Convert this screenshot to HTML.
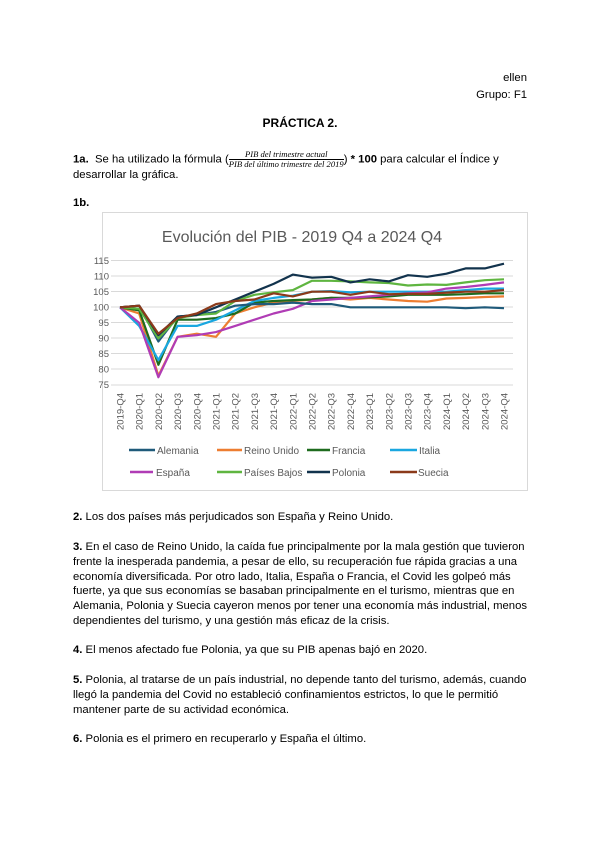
<!DOCTYPE html>
<html><head><meta charset="utf-8"><style>
body{margin:0;background:#fff;}
.pg{position:relative;width:600px;height:848px;overflow:hidden;font-family:"Liberation Sans",sans-serif;color:#000;font-size:11.3px;}
.t{position:absolute;white-space:nowrap;line-height:14px;}
b{font-weight:bold}
</style></head><body><div class="pg">
<div class="t" style="right:73px;top:71px">ellen</div>
<div class="t" style="right:73px;top:88px">Grupo: F1</div>
<div class="t" style="left:0;width:600px;text-align:center;top:116px;font-weight:bold;font-size:12px">PRÁCTICA 2.</div>
<div class="t" style="left:73px;top:150px"><b>1a.</b>&nbsp; Se ha utilizado la fórmula (<span style="display:inline-block;vertical-align:middle;text-align:center;font-family:'Liberation Serif',serif;font-style:italic;font-size:8.6px;line-height:9px"><span style="border-bottom:0.8px solid #000;display:block;padding:0 2px">PIB del trimestre actual</span>PIB del último trimestre del 2019</span>) <b>* 100</b> para calcular el Índice y</div>
<div class="t" style="left:73px;top:168px">desarrollar la gráfica.</div>
<div class="t" style="left:73px;top:196px"><b>1b.</b></div>

<svg style="position:absolute;left:0;top:0" width="600" height="848" font-family="Liberation Sans, sans-serif">
<rect x="102.5" y="212.5" width="425" height="278" fill="#fff" stroke="#d9d9d9"/>
<text x="302" y="242" text-anchor="middle" font-size="16" fill="#595959">Evolución del PIB - 2019 Q4 a 2024 Q4</text>
<g stroke="#d9d9d9" stroke-width="1">
<line x1="111" x2="513" y1="260.5" y2="260.5"/><line x1="111" x2="513" y1="276" y2="276"/><line x1="111" x2="513" y1="291.5" y2="291.5"/><line x1="111" x2="513" y1="307" y2="307"/><line x1="111" x2="513" y1="322.5" y2="322.5"/><line x1="111" x2="513" y1="338" y2="338"/><line x1="111" x2="513" y1="353.5" y2="353.5"/><line x1="111" x2="513" y1="369" y2="369"/><line x1="111" x2="513" y1="385" y2="385"/>
</g>
<g font-size="9.5" fill="#595959" text-anchor="end">
<text x="109" y="264">115</text><text x="109" y="279.5">110</text><text x="109" y="295">105</text><text x="109" y="310.5">100</text><text x="109" y="326">95</text><text x="109" y="341.5">90</text><text x="109" y="357">85</text><text x="109" y="372.5">80</text><text x="109" y="388">75</text>
</g>
<g id="xl" font-size="9.5" fill="#595959" text-anchor="end"></g>
<g id="ln" fill="none" stroke-width="2.2" stroke-linejoin="round"></g>
<g font-size="10" fill="#595959">
<line x1="129" x2="155" y1="450" y2="450" stroke="#1f5a7a" stroke-width="2.5"/><text x="157" y="454">Alemania</text>
<line x1="217" x2="242" y1="450" y2="450" stroke="#ed7d31" stroke-width="2.5"/><text x="244" y="454">Reino Unido</text>
<line x1="307" x2="330" y1="450" y2="450" stroke="#1e6b1e" stroke-width="2.5"/><text x="332" y="454">Francia</text>
<line x1="390" x2="417" y1="450" y2="450" stroke="#1aa7e0" stroke-width="2.5"/><text x="419" y="454">Italia</text>
<line x1="130" x2="153" y1="472" y2="472" stroke="#b03cb5" stroke-width="2.5"/><text x="156" y="476">España</text>
<line x1="217" x2="242" y1="472" y2="472" stroke="#5fb540" stroke-width="2.5"/><text x="244" y="476">Países Bajos</text>
<line x1="307" x2="330" y1="472" y2="472" stroke="#12334d" stroke-width="2.5"/><text x="332" y="476">Polonia</text>
<line x1="390" x2="417" y1="472" y2="472" stroke="#8b3a1a" stroke-width="2.5"/><text x="418" y="476">Suecia</text>
</g>
</svg>

<div class="t" style="left:73px;top:510px"><b>2.</b> Los dos países más perjudicados son España y Reino Unido.</div>
<div class="t" style="left:73px;top:540px;line-height:14.8px"><b>3.</b> En el caso de Reino Unido, la caída fue principalmente por la mala gestión que tuvieron<br>frente la inesperada pandemia, a pesar de ello, su recuperación fue rápida gracias a una<br>economía diversificada. Por otro lado, Italia, España o Francia, el Covid les golpeó más<br>fuerte, ya que sus economías se basaban principalmente en el turismo, mientras que en<br>Alemania, Polonia y Suecia cayeron menos por tener una economía más industrial, menos<br>dependientes del turismo, y una gestión más eficaz de la crisis.</div>
<div class="t" style="left:73px;top:643px"><b>4.</b> El menos afectado fue Polonia, ya que su PIB apenas bajó en 2020.</div>
<div class="t" style="left:73px;top:673px;line-height:14.8px"><b>5.</b> Polonia, al tratarse de un país industrial, no depende tanto del turismo, además, cuando<br>llegó la pandemia del Covid no estableció confinamientos estrictos, lo que le permitió<br>mantener parte de su actividad económica.</div>
<div class="t" style="left:73px;top:732px"><b>6.</b> Polonia es el primero en recuperarlo y España el último.</div>
</div>
<script>
var labs=[];for(var y=2019;y<=2024;y++){for(var q=1;q<=4;q++){if(y==2019&&q<4)continue;labs.push(y+"-Q"+q);}}
var X=function(i){return 120+i*19.2;},Y=function(v){return 385-(v-75)*3.11;};
var xl=document.getElementById("xl"),s="";
labs.forEach(function(l,i){var x=X(i)+3.5;s+='<text transform="translate('+x+',393) rotate(-90)">'+l+'</text>';});
xl.innerHTML=s;
var D=[
["#ed7d31",[100,98,78,90.5,91.5,90.5,98,100,101.5,102,102.5,103,102.5,103,102.5,102,101.8,102.8,103,103.3,103.5]],
["#1e6b1e",[100,99,81.5,96,96,96.5,98,101.5,102,102.3,102.5,103,103,103.2,103.5,104,104,104,104.2,104.5,104.5]],
["#1aa7e0",[100,94,83,94,94,96,99,102,103,103.7,105,105.2,104.8,105,105,105,105,105,105.5,106,106]],
["#b03cb5",[100,95,77.5,90.5,91,92,94,96,98,99.5,102,102.5,103,103.5,104,104.5,104.8,106,106.5,107.2,108]],
["#1f5a7a",[100,100.5,89,97,97.5,98.5,100.5,101,101,101.5,101,101,100,100,100,100,100,100,99.7,100,99.7]],
["#5fb540",[100,99.5,90,96.5,97.5,98,102,104,104.8,105.5,108.5,108.5,108.3,108,107.8,107,107.3,107.2,108,108.7,109]],
["#12334d",[100,100.5,91,97,97.5,100,102.5,105,107.5,110.5,109.5,109.8,108,109,108.3,110.3,109.8,110.8,112.5,112.5,114]],
["#8b3a1a",[100,100.5,91.5,96.5,98,101,102,102.5,104.5,103.5,105,105,104,105,104.2,104.3,104.3,104.7,105,105,105.5]]];
var h="";D.forEach(function(d){h+='<polyline stroke="'+d[0]+'" points="'+d[1].map(function(v,i){return X(i).toFixed(1)+","+Y(v).toFixed(1);}).join(" ")+'"/>';});
document.getElementById("ln").innerHTML=h;
</script>
</body></html>
